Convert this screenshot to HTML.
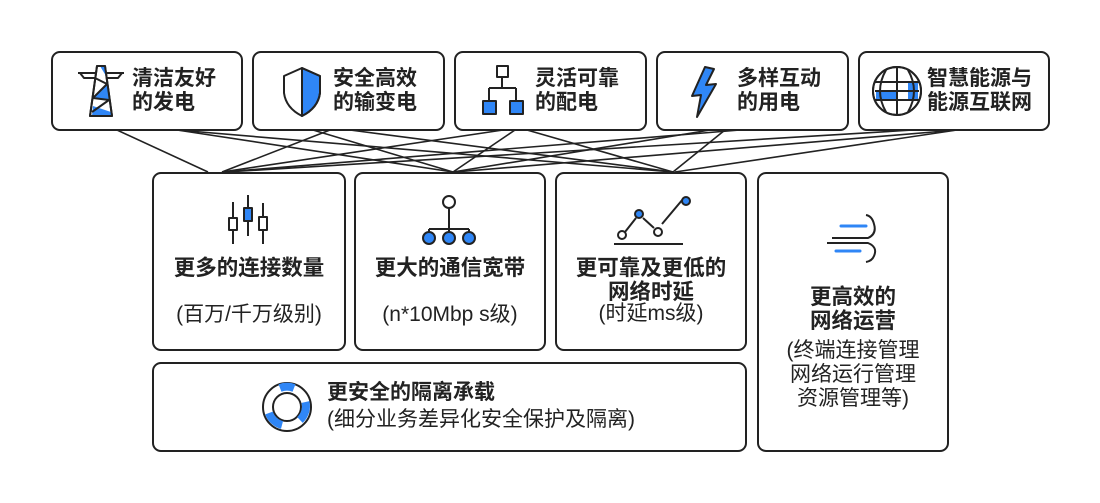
<!DOCTYPE html>
<html><head><meta charset="utf-8"><style>
body{margin:0;width:1100px;height:503px;background:#fff;position:relative;overflow:hidden;font-family:"Liberation Sans","Noto Sans CJK SC",sans-serif;color:#222}
.b{position:absolute;border:2px solid #222;border-radius:9px;box-sizing:border-box;background:#fff}
.t{position:absolute;font-weight:bold;font-size:21px;line-height:24px;white-space:nowrap}
.c{position:absolute;text-align:center;white-space:nowrap}
.h{font-weight:bold;font-size:21.5px;line-height:24px}
.s{font-size:21px;line-height:24px}
svg{position:absolute;left:0;top:0}
</style></head><body>
<svg width="1100" height="503" style="z-index:0">
<g stroke="#222" stroke-width="1.6" fill="none">
<line x1="117" y1="130" x2="208" y2="172"/>
<line x1="177" y1="130" x2="453" y2="172"/>
<line x1="177" y1="130" x2="673" y2="172"/>
<line x1="313" y1="130" x2="453" y2="172"/>
<line x1="350" y1="130" x2="673" y2="172"/>
<line x1="330" y1="130" x2="222" y2="172"/>
<line x1="503" y1="130" x2="222" y2="172"/>
<line x1="527" y1="130" x2="673" y2="172"/>
<line x1="515" y1="130" x2="453" y2="172"/>
<line x1="740" y1="130" x2="224" y2="172"/>
<line x1="710" y1="130" x2="453" y2="172"/>
<line x1="725" y1="130" x2="673" y2="172"/>
<line x1="913" y1="130" x2="226" y2="172"/>
<line x1="957" y1="130" x2="455" y2="172"/>
<line x1="957" y1="130" x2="675" y2="172"/>
</g></svg>
<div class="b" style="left:51px;top:51px;width:192px;height:80px"></div>
<div class="b" style="left:252px;top:51px;width:193px;height:80px"></div>
<div class="b" style="left:454px;top:51px;width:193px;height:80px"></div>
<div class="b" style="left:656px;top:51px;width:193px;height:80px"></div>
<div class="b" style="left:858px;top:51px;width:192px;height:80px"></div>
<div class="b" style="left:152px;top:172px;width:194px;height:179px"></div>
<div class="b" style="left:354px;top:172px;width:192px;height:179px"></div>
<div class="b" style="left:555px;top:172px;width:192px;height:179px"></div>
<div class="b" style="left:757px;top:172px;width:192px;height:280px"></div>
<div class="b" style="left:152px;top:362px;width:595px;height:90px"></div>
<svg width="1100" height="503" style="z-index:2">
<g stroke="#222" stroke-width="2" fill="none" stroke-linejoin="round">
<path d="M97 66 L105 66 L112 116 L90 116 Z" fill="#fff"/>
<path d="M100 66 L105 66 L106 76 Z M107 84 L109 100 L93 98 Z M93 106 L111 112 L111 116 L92 116 Z" fill="#2f86f6" stroke="none"/>
<path d="M97 66 L105 66 L112 116 L90 116 Z M95 78 L107 84 L93 98 L109 100 L92 112 M78 73 L96 73 M106 73 L124 73 M80 73 L84 78 L95 78 M122 73 L118 78 L107 78"/>
<path d="M302 68 L320 76 L320 93 Q318 108 302 116 Z" fill="#2f86f6"/>
<path d="M302 68 L284 76 L284 93 Q286 108 302 116 Q318 108 320 93 L320 76 Z M302 68 L302 116"/>
<rect x="497" y="66" width="11" height="11" fill="#fff"/>
<path d="M502 77 L502 88 M489 88 L516 88 M489 88 L489 103 M516 88 L516 103"/>
<rect x="483" y="101" width="13" height="13" fill="#2f86f6"/>
<rect x="510" y="101" width="13" height="13" fill="#2f86f6"/>
<path d="M705 67 L692 96 L701 95 L697 117 L716 84 L706 85 L714 69 Z" fill="#2f86f6"/>
<circle cx="897" cy="91" r="24" fill="#fff"/>
<path d="M898 83 H918 V99 H908 V83 Z" fill="#2f86f6" stroke="none"/>
<path d="M876 91 H896 V99 H876 Z" fill="#2f86f6" stroke="none"/>
<path d="M897 67 L897 115 M875 91 L919 91 M875 82 L919 82 M875 100 L919 100 M886 70 Q874 91 886 112 M908 70 Q920 91 908 112"/>
<circle cx="897" cy="91" r="24"/>
<path d="M233 202 V244 M248 195 V236 M263 203 V244"/>
<rect x="229" y="218" width="8" height="12" fill="#fff"/>
<rect x="244" y="208" width="8" height="13" fill="#2f86f6"/>
<rect x="259" y="217" width="8" height="13" fill="#fff"/>
<circle cx="449" cy="202" r="6" fill="#fff"/>
<path d="M449 208 V229 M429 229 H469 M429 229 V234 M449 229 V234 M469 229 V234"/>
<circle cx="429" cy="238" r="6" fill="#2f86f6"/>
<circle cx="449" cy="238" r="6" fill="#2f86f6"/>
<circle cx="469" cy="238" r="6" fill="#2f86f6"/>
<path d="M614 244 H683 M625 232 L636 218 M643 218 L654 228 M662 224 L683 199"/>
<circle cx="622" cy="235" r="4" fill="#fff"/>
<circle cx="639" cy="214" r="4" fill="#2f86f6"/>
<circle cx="658" cy="232" r="4" fill="#fff"/>
<circle cx="686" cy="201" r="4" fill="#2f86f6"/>
<path d="M832 238 H868 Q877 234 874 224 Q872 216 866 215 M827 243 H868 Q878 247 874 256 Q872 261 866 262"/>
<line x1="841" y1="226" x2="866" y2="226" stroke="#2f86f6" stroke-width="3" stroke-linecap="round"/>
<line x1="836" y1="251" x2="860" y2="251" stroke="#2f86f6" stroke-width="3" stroke-linecap="round"/>
<circle cx="287" cy="407" r="24" stroke-width="2"/>
<circle cx="287" cy="407" r="14" stroke-width="2"/>
</g>
<g stroke="#2f86f6" stroke-width="8" fill="none">
<path d="M280 388 A19 19 0 0 1 294 388"/>
<path d="M305.5 402 A19 19 0 0 1 300 420"/>
<path d="M282 425 A19 19 0 0 1 269 413"/>
</g>
</svg>
<div class="t" style="left:132px;top:67px;z-index:3">清洁友好<br>的发电</div>
<div class="t" style="left:333px;top:67px;z-index:3">安全高效<br>的输变电</div>
<div class="t" style="left:535px;top:67px;z-index:3">灵活可靠<br>的配电</div>
<div class="t" style="left:737px;top:67px;z-index:3">多样互动<br>的用电</div>
<div class="t" style="left:927px;top:67px;z-index:3">智慧能源与<br>能源互联网</div>
<div class="c h" style="left:152px;width:194px;top:256px;z-index:3">更多的连接数量</div>
<div class="c s" style="left:152px;width:194px;top:303px;z-index:3">(百万/千万级别)</div>
<div class="c h" style="left:354px;width:192px;top:256px;z-index:3">更大的通信宽带</div>
<div class="c s" style="left:354px;width:192px;top:303px;z-index:3">(n*10Mbp s级)</div>
<div class="c h" style="left:555px;width:192px;top:256px;z-index:3">更可靠及更低的<br>网络时延</div>
<div class="c s" style="left:555px;width:192px;top:302px;z-index:3">(时延ms级)</div>
<div class="c h" style="left:757px;width:192px;top:285px;z-index:3">更高效的<br>网络运营</div>
<div class="c s" style="left:757px;width:192px;top:339px;z-index:3">(终端连接管理<br>网络运行管理<br>资源管理等)</div>
<div class="t" style="left:327px;top:381px;z-index:3">更安全的隔离承载</div>
<div class="c s" style="left:327px;top:408px;text-align:left;z-index:3">(细分业务差异化安全保护及隔离)</div>
</body></html>
